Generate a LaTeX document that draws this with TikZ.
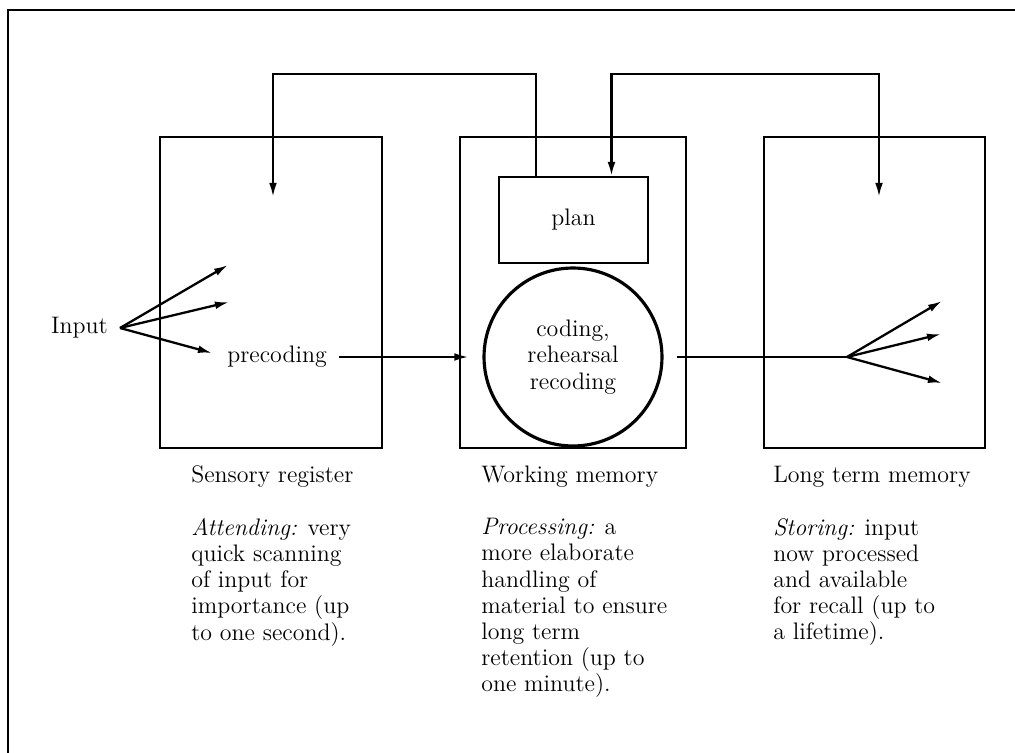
\documentclass[tikz,border=0pt]{standalone}
\usepackage{tikz}
\usetikzlibrary{calc,arrows.meta}
\tikzset{
  store/.style={draw,line width=1.1pt,minimum height=6.22cm,inner sep=0pt},
  link/.style={line width=1.3pt,-{Latex[length=8pt,width=4.4pt]}},
  duplex/.style={line width=1.3pt,{Latex[length=8pt,width=4.4pt]}-{Latex[length=8pt,width=4.4pt]}},
  lbl/.style={font=\fontsize{13.6}{14.9}\selectfont,inner sep=0pt},
  note/.style={lbl,anchor=north west,align=left},
}

\begin{document}
\begin{tikzpicture}[x=0.02cm,y=-0.02cm]
\useasboundingbox (0,0) rectangle (1015,753);
\draw[line width=0.8pt] (8,753) -- (8,10) -- (1015,10);

\node[store,minimum width=4.44cm] (sensory) at (271,292.5) {};
\node[store,minimum width=4.52cm] (working) at (573,292.5) {};
\node[store,minimum width=4.42cm] (longterm) at (874.5,292.5) {};
\node[draw,line width=1.1pt,lbl,minimum width=2.98cm,minimum height=1.72cm] (plan) at (573.5,220) {plan};
\node[circle,draw,line width=1.8pt,lbl,align=center,minimum size=3.56cm] (coding) at (573,357) {coding,\\rehearsal\\recoding};

\node[lbl,anchor=east] (input) at (108,328) {Input};
\node[lbl] (precoding) at (277,357) {precoding};

\coordinate (fanIn) at (120,328);
\coordinate (fanOut) at (847,357);
\coordinate (sTip) at (273,197);
\coordinate (lTip) at (879,197);
\foreach \n/\tx/\ty in {a/228/265,b/229/302,c/212/353}
  \coordinate (in\n) at (\tx,\ty);
\foreach \n/\tx/\ty in {a/942/301,b/941/334,c/942/383}
  \coordinate (out\n) at (\tx,\ty);

\foreach \n in {a,b,c}
  \draw[link] (fanIn) -- (in\n);
\draw[link,shorten <=0.24cm,shorten >=0.28cm] (precoding.east) -- (precoding.east -| coding.west);
\draw[line width=1.3pt,shorten <=0.26cm] (coding.east) -- (fanOut);
\foreach \n in {a,b,c}
  \draw[link] (fanOut) -- (out\n);

\draw[link] ([xshift=-0.75cm]plan.north) -- ++(0,2.04cm) -| (sTip);
\draw[duplex] ([xshift=0.76cm]plan.north) -- ++(0,2.04cm) -| (lTip);

\node[lbl,anchor=base west] (sensoryName) at (191,482) {Sensory register};
\node[lbl,anchor=base west] (workingName) at (481,482) {Working memory};
\node[lbl,anchor=base west] (longtermName) at (773,482) {Long term memory};

\node[note] (sensoryNote) at (191,518) {\textit{Attending:} very\\quick scanning\\of input for\\importance (up\\to one second).};
\node[note] (workingNote) at (481,518) {\textit{Processing:} a\\more elaborate\\handling of\\material to ensure\\long term\\retention (up to\\one minute).};
\node[note] (longtermNote) at (773,518) {\textit{Storing:} input\\now processed\\and available\\for recall (up to\\a lifetime).};
\end{tikzpicture}
\end{document}
